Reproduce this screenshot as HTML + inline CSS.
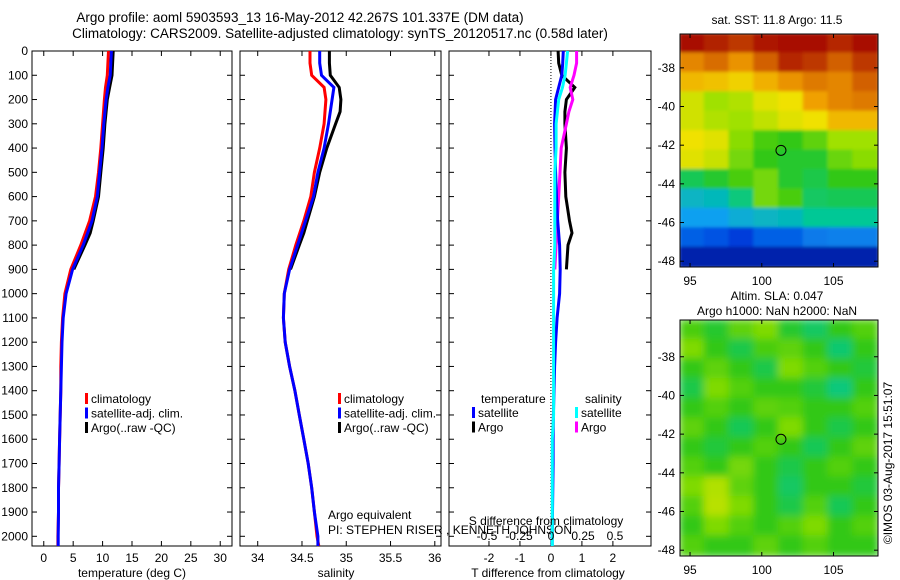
<!DOCTYPE html>
<html><head><meta charset="utf-8"><style>
body{margin:0;background:#fff;}
svg{display:block;font-family:"Liberation Sans",sans-serif;}
text{fill:#000;}
</style></head><body>
<svg id="s" width="900" height="580" xmlns="http://www.w3.org/2000/svg">
<defs>
<filter id="bl" x="0" y="0" width="1" height="1"><feGaussianBlur stdDeviation="4"/></filter>
<filter id="bl2" x="0" y="0" width="1" height="1"><feGaussianBlur stdDeviation="1.5"/></filter>
<clipPath id="c1"><rect x="680" y="34" width="198" height="233"/></clipPath>
<clipPath id="c2"><rect x="680" y="320" width="198" height="236"/></clipPath>
</defs>
<text x="300" y="22" font-size="13.5" text-anchor="middle">Argo profile: aoml 5903593_13 16-May-2012 42.267S 101.337E (DM data)</text>
<text x="340" y="38" font-size="13.5" text-anchor="middle">Climatology: CARS2009. Satellite-adjusted climatology: synTS_20120517.nc (0.58d later)</text>
</svg>
<script>
// ---- data ----
const depths=[0,50,100,150,200,300,400,500,600,700,800,900,1000,1100,1200,1300,1400,1500,1600,1700,1800,1900,2000,2040];
const tempClim=[11.0,10.9,10.8,10.5,10.3,10.0,9.7,9.3,8.8,7.8,6.3,4.6,3.6,3.2,3.0,2.9,2.9,2.8,2.7,2.6,2.5,2.5,2.4,2.4];
const tempSat=[11.5,11.4,11.3,10.9,10.6,10.2,9.9,9.5,9.1,8.2,6.7,4.9,3.8,3.3,3.1,3.0,2.9,2.8,2.7,2.6,2.5,2.5,2.45,2.45];
const argoDepths=[0,50,100,150,200,250,300,400,500,600,700,750,800,900];
const tempArgo=[11.8,11.7,11.6,11.2,10.8,10.6,10.4,10.1,9.7,9.3,8.4,7.9,7.0,5.1];
const salClim=[34.59,34.59,34.61,34.75,34.77,34.75,34.70,34.64,34.60,34.52,34.43,34.35,34.30,34.29,34.31,34.36,34.42,34.47,34.52,34.57,34.61,34.64,34.67,34.69];
const salSat=[34.70,34.70,34.72,34.86,34.84,34.80,34.75,34.68,34.63,34.54,34.45,34.36,34.30,34.29,34.31,34.36,34.42,34.47,34.52,34.57,34.61,34.64,34.68,34.68];
const salArgo=[34.81,34.81,34.82,34.92,34.94,34.93,34.88,34.78,34.70,34.64,34.56,34.52,34.47,34.37];
const tDiffSat=[0.40,0.38,0.35,0.25,0.15,0.12,0.13,0.15,0.18,0.22,0.28,0.30,0.28,0.20,0.15,0.12,0.10,0.08,0.07,0.07,0.06,0.05,0.04,0.04];
const tDiffArgo=[0.23,0.25,0.35,0.77,0.50,0.45,0.45,0.50,0.45,0.48,0.60,0.68,0.55,0.50];
const sDiffSat=[0.13,0.12,0.11,0.09,0.06,0.04,0.04,0.03,0.03,0.03,0.03,0.02,0.02,0.02,0.02,0.02,0.02,0.02,0.01,0.01,0.01,0.01,0.01,0.01];
const sDiffArgo=[0.20,0.20,0.18,0.15,0.17,0.14,0.12,0.08,0.07,0.06,0.05,0.05,0.04,0.03];
const depthTicks=[0,100,200,300,400,500,600,700,800,900,1000,1100,1200,1300,1400,1500,1600,1700,1800,1900,2000];
const tempTicks=[0,5,10,15,20,25,30];
const salTicks=[34,34.5,35,35.5,36];
const salTickLabels=["34","34.5","35","35.5","36"];
const tdTicks=[-2,-1,0,1,2];
const sdTicks=[-0.5,-0.25,0,0.25,0.5];
const sdTickLabels=["-0.5","-0.25","0","0.25","0.5"];
const lonTicks=[95,100,105];
const latTicks=[-38,-40,-42,-44,-46,-48];
// SST field (0..1 colour scale), rows north->south
const sstGrid=[
[0.98,0.96,0.93,0.97,0.98,0.98,0.95,0.98],
[0.82,0.86,0.80,0.88,0.95,0.93,0.88,0.93],
[0.75,0.74,0.72,0.76,0.80,0.84,0.82,0.88],
[0.66,0.60,0.62,0.68,0.70,0.78,0.82,0.84],
[0.66,0.62,0.60,0.64,0.68,0.70,0.75,0.75],
[0.70,0.68,0.58,0.52,0.50,0.54,0.60,0.60],
[0.68,0.65,0.56,0.50,0.48,0.48,0.55,0.58],
[0.45,0.48,0.52,0.56,0.48,0.46,0.50,0.50],
[0.35,0.36,0.42,0.56,0.52,0.44,0.45,0.45],
[0.30,0.30,0.33,0.35,0.36,0.40,0.40,0.40],
[0.20,0.18,0.14,0.20,0.20,0.24,0.25,0.25],
[0.06,0.06,0.06,0.06,0.06,0.06,0.06,0.06]];
const slaGrid=[
[0.52,0.48,0.54,0.57,0.48,0.44,0.50,0.53],
[0.57,0.50,0.46,0.52,0.54,0.50,0.43,0.50],
[0.50,0.54,0.50,0.46,0.57,0.53,0.50,0.47],
[0.46,0.57,0.53,0.50,0.50,0.47,0.42,0.50],
[0.50,0.53,0.50,0.54,0.53,0.50,0.50,0.53],
[0.54,0.50,0.45,0.50,0.57,0.50,0.46,0.50],
[0.50,0.47,0.50,0.53,0.50,0.45,0.50,0.54],
[0.53,0.50,0.56,0.50,0.46,0.50,0.53,0.50],
[0.57,0.62,0.54,0.50,0.44,0.50,0.50,0.47],
[0.53,0.63,0.57,0.50,0.46,0.53,0.45,0.50],
[0.50,0.57,0.53,0.50,0.53,0.57,0.50,0.53],
[0.53,0.50,0.50,0.54,0.50,0.53,0.50,0.50]];
const floatLon=101.337, floatLat=-42.267;

const NS="http://www.w3.org/2000/svg";
const svg=document.getElementById('s');
function E(tag,attrs,parent){const e=document.createElementNS(NS,tag);for(const k in attrs)e.setAttribute(k,attrs[k]);(parent||svg).appendChild(e);return e;}
function T(x,y,s,anchor,parent,size){const t=E('text',{x:x,y:y,'font-size':size||12,'text-anchor':anchor||'start'},parent);t.textContent=s;return t;}

const yTop=51,yBot=546,dMin=0,dMax=2040;
const yD=d=>yTop+(d-dMin)/(dMax-dMin)*(yBot-yTop);

function panel(name,x0,x1,vmin,vmax){
  const g=E('g',{});
  
  
  E('rect',{x:x0,y:yTop,width:x1-x0,height:yBot-yTop,fill:'none',stroke:'#000','stroke-width':1},g);
  return {g:g,x:v=>x0+(v-vmin)/(vmax-vmin)*(x1-x0),x0:x0,x1:x1};
}
function ticksX(p,vals,labels,tickTop,tickBot){
  vals.forEach((v,i)=>{const x=p.x(v);
    if(tickTop)E('line',{x1:x,x2:x,y1:yTop,y2:yTop+5,stroke:'#000'},p.g);
    if(tickBot)E('line',{x1:x,x2:x,y1:yBot,y2:yBot-5,stroke:'#000'},p.g);
    if(labels){const t=T(x,562,labels[i],'middle',p.g);}
  });
}
function ticksY(p){depthTicks.forEach(d=>{const y=yD(d);
  E('line',{x1:p.x0,x2:p.x0+5,y1:y,y2:y,stroke:'#000'},p.g);
  E('line',{x1:p.x1,x2:p.x1-5,y1:y,y2:y,stroke:'#000'},p.g);});}
function line(p,ds,vals,color,name,w){
  const pts=vals.map((v,i)=>p.x(v).toFixed(1)+','+yD(ds[i]).toFixed(1)).join(' ');
  const l=E('polyline',{points:pts,fill:'none',stroke:color,'stroke-width':w||3,'stroke-linejoin':'miter'},p.g);
  
  
}
function legend(p,x,y,items){
  items.forEach((it,i)=>{
    E('rect',{x:x,y:y+i*14.5-6,width:3,height:11,fill:it[1]},p.g);
    const t=T(x+6,y+i*14.5+4,it[0],'start',p.g);
    
    
  });
}

depthTicks.forEach(d=>{const t=T(28,yD(d)+4,String(d),'end');
  
  });

const p1=panel('temperature-panel',32,232,-2.0,32.0);
ticksX(p1,tempTicks,tempTicks.map(String),true,true);ticksY(p1);
line(p1,argoDepths,tempArgo,'#000','argo-temp-line');
line(p1,depths,tempClim,'#ff0000','clim-temp-line');
line(p1,depths,tempSat,'#0000ff','sat-temp-line');
legend(p1,85,399,[['climatology','#ff0000'],['satellite-adj. clim.','#0000ff'],['Argo(..raw -QC)','#000']]);
{const t=T(132,577,'temperature (deg C)','middle',p1.g);}

const p2=panel('salinity-panel',240,441,33.80,36.07);
ticksX(p2,salTicks,salTickLabels,true,true);ticksY(p2);
line(p2,argoDepths,salArgo,'#000','argo-sal-line');
line(p2,depths,salClim,'#ff0000','clim-sal-line');
line(p2,depths,salSat,'#0000ff','sat-sal-line');
legend(p2,338,399,[['climatology','#ff0000'],['satellite-adj. clim.','#0000ff'],['Argo(..raw -QC)','#000']]);
{const t=T(336,577,'salinity','middle',p2.g);}
{const t=T(328,519,'Argo equivalent','start',p2.g);}
{const t=T(328,534,'PI: STEPHEN RISER , KENNETH JOHNSON','start',p2.g);}

const p3=panel('difference-panel',449,651,-3.29,3.23);
const ps={g:p3.g,x:v=>551+v*128,x0:449,x1:651};
ticksX(p3,tdTicks,tdTicks.map(String),true,true);ticksY(p3);
E('line',{x1:p3.x(0),x2:p3.x(0),y1:yTop,y2:yBot,stroke:'#000','stroke-dasharray':'1,2'},p3.g);
line(p3,argoDepths,tDiffArgo,'#000','argo-tdiff-line');
line(ps,argoDepths,sDiffArgo,'#ff00ff','argo-sdiff-line');
line(p3,depths,tDiffSat,'#0000ff','sat-tdiff-line');
line(ps,depths,sDiffSat,'#00ffff','sat-sdiff-line');
{const t=T(481,403,'temperature','start',p3.g);}
{const t=T(585,403,'salinity','start',p3.g);}
legend(p3,472,413,[['satellite','#0000ff'],['Argo','#000']]);
legend(p3,575,413,[['satellite','#00ffff'],['Argo','#ff00ff']]);
{const t=T(546,525,'S difference from climatology','middle',p3.g);}
sdTicks.forEach((v,i)=>{const t=T(ps.x(v),540,sdTickLabels[i],'middle',p3.g);});
{const t=T(548,577,'T difference from climatology','middle',p3.g);}

const stops=[[0,[0,16,138]],[0.15,[0,64,224]],[0.3,[16,160,240]],[0.4,[0,200,150]],[0.5,[50,200,20]],[0.6,[160,225,0]],[0.7,[240,225,0]],[0.78,[240,160,0]],[0.88,[210,96,0]],[1,[160,0,0]]];
function col(v){v=Math.max(0,Math.min(1,v));for(let i=1;i<stops.length;i++){if(v<=stops[i][0]){const a=stops[i-1],b=stops[i];const f=(v-a[0])/(b[0]-a[0]);return 'rgb('+a[1].map((c,k)=>Math.round(c+(b[1][k]-c)*f)).join(',')+')';}}return 'rgb(160,0,0)';}

function mapPanel(name,x0,y0,w,h,grid,latN,latS,filt,clip){
  const g=E('g',{});
  
  
  const lonW=94.3,lonE=108.1;
  const xL=lon=>x0+(lon-lonW)/(lonE-lonW)*w;
  const yL=lat=>y0+(latN-lat)/(latN-latS)*h;
  const cg=E('g',{'clip-path':'url(#'+clip+')'},g);
  const ig=E('g',{filter:'url(#'+filt+')'},cg);
  const rows=grid.length,cols=grid[0].length;
  E('rect',{x:x0,y:y0,width:w,height:h,fill:col(grid[5][4])},ig);
  grid.forEach((r,i)=>r.forEach((v,j)=>{
    const c=E('rect',{x:x0+j*w/cols-1,y:y0+i*h/rows-1,width:w/cols+2,height:h/rows+2,fill:col(v)},ig);
    
    
  }));
  E('rect',{x:x0,y:y0,width:w,height:h,fill:'none',stroke:'#000'},g);
  const m=E('circle',{cx:xL(floatLon),cy:yL(floatLat),r:5,fill:'none',stroke:'#000'},g);
  
  
  latTicks.forEach(l=>{const y=yL(l);E('line',{x1:x0,x2:x0+4,y1:y,y2:y,stroke:'#000'},g);E('line',{x1:x0+w,x2:x0+w-4,y1:y,y2:y,stroke:'#000'},g);
    const t=T(x0-5,y+4,String(l),'end',g);});
  lonTicks.forEach(l=>{const x=xL(l);E('line',{x1:x,x2:x,y1:y0,y2:y0+4,stroke:'#000'},g);E('line',{x1:x,x2:x,y1:y0+h,y2:y0+h-4,stroke:'#000'},g);
    const t=T(x,y0+h+18,String(l),'middle',g);});
}
mapPanel('sst-map',680,34,198,233,sstGrid,-36.25,-48.3,'bl2','c1');
mapPanel('sla-map',680,320,198,236,slaGrid,-36.1,-48.3,'bl','c2');
{const t=T(777,24,'sat. SST: 11.8  Argo: 11.5','middle');}
{const t=T(777,300,'Altim. SLA: 0.047','middle');}
{const t=T(777,315,'Argo h1000: NaN h2000: NaN','middle');}
{const t=T(0,0,'©IMOS 03-Aug-2017 15:51:07','middle');t.setAttribute('transform','translate(892,463) rotate(-90)');}
</script>
</body></html>
